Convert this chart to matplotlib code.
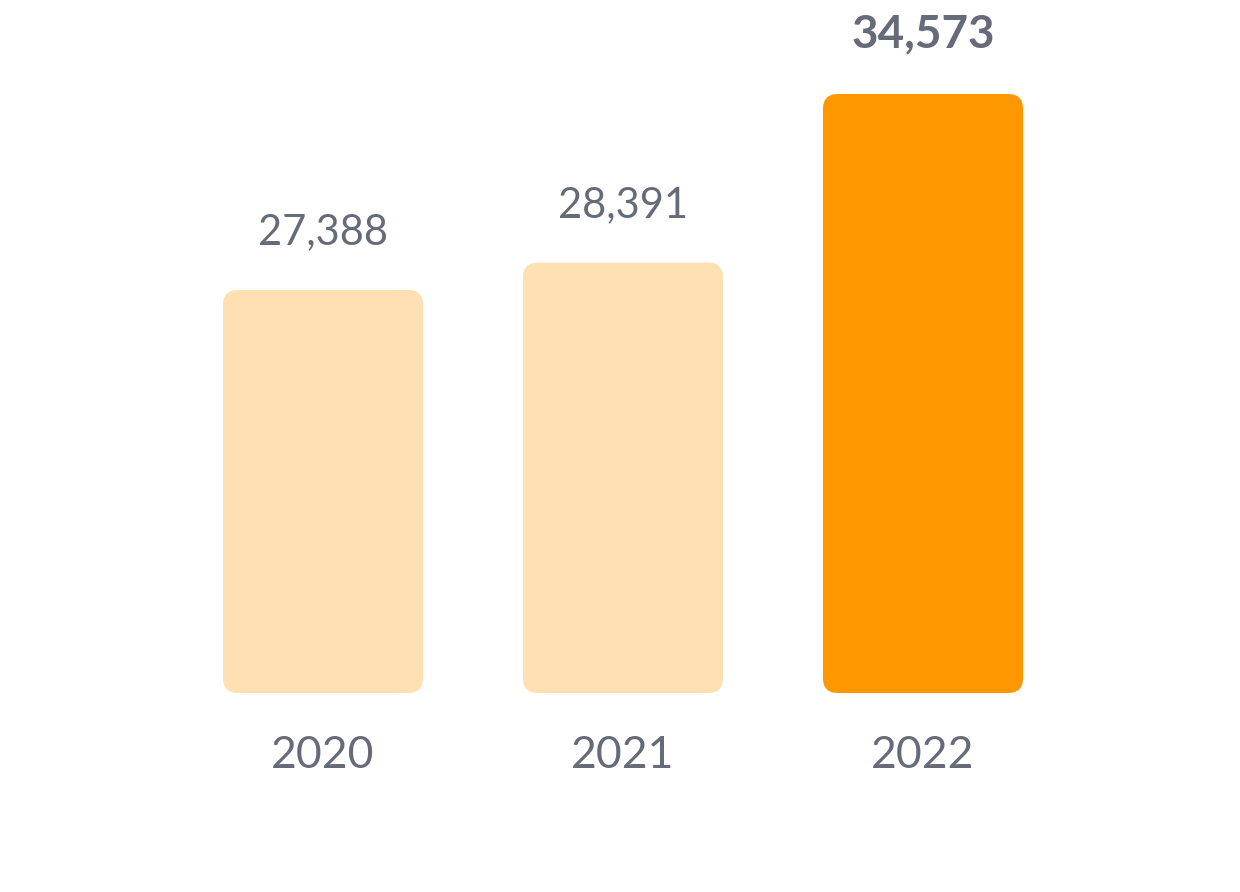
import matplotlib
matplotlib.use("Agg")
import matplotlib.pyplot as plt
from matplotlib.patches import FancyBboxPatch

years = ["2020", "2021", "2022"]
values = [27388, 28391, 34573]
labels = ["27,388", "28,391", "34,573"]
colors = ["#FEE0B3", "#FEE0B3", "#FF9800"]
weights = ["normal", "normal", "bold"]
sizes = [30, 30, 33]

plt.rcParams['font.family'] = ['Lato', 'DejaVu Sans']
gray = "#656B78"
fig = plt.figure(figsize=(12.4, 8.92), dpi=100)
ax = fig.add_axes([0, 199/892, 1, 693/892])
base = 12613
ax.set_ylim(base, 38019)
ax.set_xlim(-323/300, (1240-323)/300)
ax.axis('off')

w = 0.667
bars = ax.bar(range(3), [v - base for v in values], bottom=base, width=w, color=colors)
for b in bars:
    x, y = b.get_x(), b.get_y()
    bw, bh = b.get_width(), b.get_height()
    b.set_visible(False)
    p = FancyBboxPatch((x, y), bw, bh, boxstyle="round,pad=0,rounding_size=0.05",
                       mutation_aspect=11000, facecolor=b.get_facecolor(), edgecolor='none')
    ax.add_patch(p)

for i, (v, lab) in enumerate(zip(values, labels)):
    ax.annotate(lab, (i, v), xytext=(0, 28), textcoords='offset points',
                ha='center', va='bottom', fontsize=sizes[i], fontweight=weights[i], color=gray)
    ax.annotate(years[i], (i, base), xytext=(0, -30), textcoords='offset points',
                ha='center', va='top', fontsize=32, color=gray)

fig.savefig("out.png", dpi=100)
